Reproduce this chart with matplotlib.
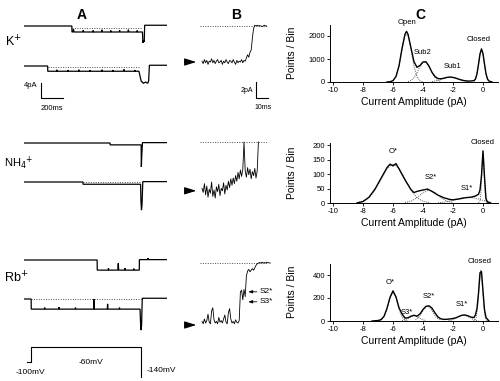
import numpy as np
import matplotlib
matplotlib.use("Agg")
import matplotlib.pyplot as plt

plt.rcParams['font.family'] = ['Liberation Sans', 'DejaVu Sans']
plt.rcParams['axes.unicode_minus'] = False

W, H = 500, 381

# ---------------- panel A: long sweeps (ms, pA) ----------------
k_a1_t = [-65, 370, 371, 380, 385, 390, 470, 474, 478, 560, 564, 568, 640, 644, 648, 720, 724, 728,
          800, 804, 808, 880, 884, 888, 960, 964, 968, 1012, 1016, 1022, 1028, 1032, 1235]
k_a1_i = [0, 0, -1.6, -1.6, -0.9, -1.6, -1.6, -1.1, -1.6, -1.6, -1.2, -1.6, -1.6, -1.0, -1.6, -1.6, -1.2, -1.6,
          -1.6, -1.1, -1.6, -1.6, -1.0, -1.6, -1.6, -1.2, -1.6, -1.6, -4.5, -3.8, -4.2, 0.2, 0.2]
k_a1_closed = [370, 1012, -0.5]

k_a2_t = [-65, 150, 151, 230, 234, 238, 330, 334, 338, 430, 434, 438, 530, 534, 538, 640, 644, 648,
          740, 744, 748, 840, 844, 848, 940, 944, 948, 980, 1000, 1020, 1040, 1060, 1068, 1075, 1235]
k_a2_i = [0, 0, -1.4, -1.4, -1.0, -1.4, -1.4, -1.1, -1.4, -1.4, -1.0, -1.4, -1.4, -1.1, -1.4, -1.4, -1.0, -1.4,
          -1.4, -1.1, -1.4, -1.4, -0.9, -1.4, -1.4, -1.1, -1.4, -1.4, -4.0, -4.6, -4.3, -4.6, -4.0, 0.2, 0.2]
k_a2_closed = [150, 990, -0.2]

nh4_a1_t = [-65, 717, 718, 1000, 1002, 1006, 1012, 1235]
nh4_a1_i = [0, 0, -0.5, -0.5, -6.4, -3.0, 0.1, 0.1]

nh4_a2_t = [-65, 471, 472, 995, 998, 1003, 1008, 1015, 1235]
nh4_a2_i = [0, 0, -0.6, -0.6, -5.0, -7.5, -6.0, 0.1, 0.1]
nh4_a2_closed = [471, 995, 0.0]

rb_a1_t = [-65, 600, 601, 700, 703, 706, 788, 792, 796, 850, 853, 856, 930, 933, 936, 983, 984,
           1060, 1063, 1066, 1235]
rb_a1_i = [0, 0, -2.7, -2.7, -2.2, -2.7, -2.7, -0.9, -2.7, -2.7, -2.2, -2.7, -2.7, -2.3, -2.7, -2.7, 0.1,
           0.1, 0.5, 0.1, 0.1]

rb_a2_t = [-65, 0, 1, 120, 123, 126, 250, 253, 256, 400, 403, 406, 570, 572, 574, 692, 695, 698,
           800, 803, 806, 990, 994, 998, 1004, 1010, 1235]
rb_a2_i = [0, 0, -2.7, -2.7, -2.3, -2.7, -2.7, -2.2, -2.7, -2.7, -2.3, -2.7, -2.7, 0.0, -2.7, -2.7, -1.3, -2.7,
           -2.7, -2.3, -2.7, -2.7, -6.0, -8.3, -7.0, 0.2, 0.2]
rb_a2_closed = [0, 995, 0.0]

prot_t = [-40, 0, 0, 1000, 1000]
prot_v = [-100, -100, -60, -60, -140]

# ---------------- panel B: tail currents, 1 ms samples (pA) ----------------
k_b_i = [-4.4, -4.7, -4.2, -4.6, -4.3, -4.8, -4.4, -4.5, -4.1, -4.6, -4.3, -4.7, -4.4, -4.2, -4.6, -4.5,
         -4.3, -4.8, -4.4, -4.6, -4.2, -4.5, -4.7, -4.3, -4.4, -4.6, -4.2, -4.5, -4.8, -4.3, -4.6, -4.4,
         -4.5, -4.2, -4.6, -4.3, -4.4, -4.0, -3.6, -3.9, -3.3, -3.0, -1.5, -0.3, 0.1, 0.0, 0.1, 0.0,
         0.05, 0.0, -0.05, 0.0, 0.1, 0.0, 0.0]
nh4_b_i = [-5.8, -6.3, -5.2, -6.6, -5.5, -6.9, -5.9, -6.4, -5.0, -6.8, -6.0, -7.0, -5.6, -6.2, -5.3, -6.7,
           -5.8, -6.1, -5.1, -6.5, -5.4, -6.0, -4.9, -5.7, -4.6, -5.4, -4.5, -5.2, -4.2, -4.9, -3.8, -4.6,
           -3.5, -4.3, -3.4, 0.0, -3.6, -4.4, -3.2, -4.1, -3.4, -4.6, -3.7, -4.2, -3.3, -4.5, -3.6, 0.0]
rb_b_i = [-7.3, -7.6, -7.0, -7.5, -7.2, -6.4, -7.4, -7.6, -6.0, -5.6, -7.1, -7.5, -7.3, -7.6, -6.8, -7.4,
          -7.2, -7.5, -7.0, -6.5, -7.4, -7.6, -6.2, -5.7, -7.0, -7.5, -7.3, -7.6, -7.1, -7.4, -7.5, -7.2,
          -3.6, -3.4, -4.6, -3.3, -4.2, -1.6, -1.0, -0.8, -1.1, -0.9, -0.7, -0.9, -0.6, -0.3, -0.1,
          0.0, 0.05, 0.0, 0.1, 0.0, 0.05, 0.0, 0.1, 0.05, 0.0, 0.0]
b_open = {'K': -4.5, 'NH4': -6.1, 'Rb': -7.75}

# ---------------- panel C: amplitude histograms ----------------
k_x = [-6.4, -6.2, -6.0, -5.8, -5.6, -5.4, -5.2, -5.1, -5.0, -4.8, -4.6, -4.4, -4.2, -4.0, -3.8, -3.6,
       -3.4, -3.2, -3.0, -2.8, -2.6, -2.4, -2.2, -2.0, -1.8, -1.6, -1.4, -1.2, -1.0, -0.8, -0.6, -0.5,
       -0.4, -0.3, -0.2, -0.1, 0.0, 0.1, 0.2, 0.3, 0.4, 0.6]
k_n = [0, 10, 60, 240, 700, 1450, 2080, 2200, 2080, 1480, 880, 640, 720, 870, 880, 690,
       420, 240, 150, 140, 165, 200, 215, 200, 165, 120, 80, 55, 40, 45, 60, 130,
       360, 770, 1220, 1440, 1230, 780, 360, 130, 40, 0]
k_fit = [
    ([-6.0, -5.8, -5.6, -5.4, -5.2, -5.0, -4.8, -4.6, -4.4, -4.2, -4.0],
     [52, 228, 680, 1420, 2050, 2050, 1420, 680, 228, 52, 8]),
    ([-5.0, -4.8, -4.6, -4.4, -4.2, -4.0, -3.8, -3.6, -3.4, -3.2, -3.0, -2.8],
     [20, 70, 190, 402, 664, 853, 853, 664, 402, 190, 70, 20]),
    ([-3.4, -3.2, -3.0, -2.8, -2.6, -2.4, -2.2, -2.0, -1.8, -1.6, -1.4, -1.2, -1.0],
     [19, 40, 73, 116, 161, 197, 210, 197, 161, 116, 73, 40, 19]),
    ([-0.6, -0.5, -0.4, -0.3, -0.2, -0.1, 0.0, 0.1, 0.2, 0.3, 0.4],
     [30, 120, 354, 766, 1217, 1420, 1217, 766, 354, 120, 30]),
]
k_labels = [('Open', -5.1, 2580), ('Sub2', -4.0, 1275), ('Sub1', -2.0, 670), ('Closed', -0.3, 1855)]

nh4_x = [-8.4, -8.0, -7.6, -7.2, -6.8, -6.4, -6.2, -6.0, -5.8, -5.6, -5.2, -4.8, -4.6, -4.4, -4.0, -3.7,
         -3.4, -3.0, -2.6, -2.2, -2.0, -1.6, -1.2, -0.8, -0.5, -0.3, -0.2, -0.1, 0.0, 0.1, 0.2, 0.3, 0.5]
nh4_n = [0, 5, 20, 48, 85, 122, 134, 128, 136, 118, 80, 46, 36, 40, 45, 48,
         40, 27, 18, 12, 11, 14, 18, 20, 24, 30, 45, 95, 180, 90, 15, 3, 0]
nh4_fit = [
    ([-8.4, -8.0, -7.6, -7.2, -6.8, -6.4, -6.0, -5.6, -5.2, -4.8, -4.4, -4.0, -3.6],
     [1.5, 6, 18, 44, 82, 119, 135, 119, 82, 44, 18, 6, 1.5]),
    ([-5.2, -4.8, -4.4, -4.0, -3.6, -3.2, -2.8, -2.4, -2.0],
     [1.3, 6, 18.5, 36, 45, 36, 18.5, 6, 1.3]),
    ([-3.0, -2.6, -2.2, -1.8, -1.4, -1.0, -0.6, -0.2, 0.2, 0.6],
     [0.9, 2.7, 6.5, 12, 17.6, 20, 17.6, 12, 6.5, 2.7]),
    ([-0.3, -0.2, -0.15, -0.1, -0.05, 0.0, 0.05, 0.1, 0.15, 0.2, 0.3],
     [0.2, 7.5, 29, 78, 140, 170, 140, 78, 29, 7.5, 0.2]),
]
nh4_labels = [('O*', -6.0, 177), ('S2*', -3.5, 87), ('S1*', -1.1, 50), ('Closed', 0.0, 208)]

rb_x = [-7.4, -7.0, -6.8, -6.6, -6.4, -6.2, -6.0, -5.8, -5.6, -5.4, -5.2, -5.0, -4.8, -4.6, -4.4, -4.2,
        -4.0, -3.8, -3.6, -3.4, -3.2, -3.0, -2.8, -2.6, -2.4, -2.2, -2.0, -1.8, -1.6, -1.4, -1.2, -1.0,
        -0.8, -0.6, -0.5, -0.4, -0.3, -0.2, -0.1, 0.0, 0.1, 0.2, 0.4]
rb_n = [0, 4, 12, 40, 110, 205, 262, 210, 115, 62, 25, 28, 42, 50, 42, 62,
        100, 128, 132, 112, 70, 35, 18, 14, 15, 18, 22, 28, 40, 50, 52, 45,
        34, 30, 55, 110, 240, 420, 430, 260, 100, 30, 0]
rb_fit = [
    ([-7.0, -6.8, -6.6, -6.4, -6.2, -6.0, -5.8, -5.6, -5.4, -5.2, -5.0],
     [1, 7, 34, 105, 204, 255, 204, 105, 34, 7, 1]),
    ([-5.4, -5.2, -5.0, -4.8, -4.6, -4.4, -4.2, -4.0, -3.8],
     [3.3, 10, 23, 38, 45, 38, 23, 10, 3.3]),
    ([-4.5, -4.3, -4.1, -3.9, -3.7, -3.5, -3.3, -3.1, -2.9],
     [9.5, 30, 68, 110, 130, 110, 68, 30, 9.5]),
    ([-2.3, -2.1, -1.9, -1.7, -1.5, -1.3, -1.1, -0.9, -0.7, -0.5, -0.3],
     [2.3, 7, 17, 32, 46, 52, 46, 32, 17, 7, 2.3]),
    ([-0.65, -0.55, -0.45, -0.35, -0.25, -0.15, -0.05, 0.05, 0.15, 0.25, 0.35],
     [0.3, 4, 31, 135, 327, 440, 327, 135, 31, 4, 0.3]),
]
rb_labels = [('O*', -6.2, 333), ('S3*', -5.1, 70), ('S2*', -3.6, 215), ('S1*', -1.4, 140), ('Closed', -0.25, 516)]

x_ticks = [-10, -8, -6, -4, -2, 0]

fig = plt.figure(figsize=(W / 100, H / 100), dpi=100)


def px_axes(x0, x1, y_top, y_bot):
    ax = fig.add_axes([x0 / W, 1 - y_bot / H, (x1 - x0) / W, (y_bot - y_top) / H])
    ax.patch.set_visible(False)
    return ax


def trace_axes(x0, x1, xlim, y0, ppu, ylim):
    ax = px_axes(x0, x1, y0 - ylim[1] * ppu, y0 - ylim[0] * ppu)
    ax.set_xlim(xlim)
    ax.set_ylim(ylim)
    ax.axis('off')
    return ax


def ftext(x, y, s, **kw):
    fig.text(x / W, 1 - y / H, s, **kw)


# panel A
A_XL = (-65, 1235)
A_PPU = 3.75
a_rows = [
    (26, k_a1_t, k_a1_i, k_a1_closed, (-6, 1)),
    (66, k_a2_t, k_a2_i, k_a2_closed, (-12.5, 1)),
    (143, nh4_a1_t, nh4_a1_i, None, (-8, 1)),
    (182, nh4_a2_t, nh4_a2_i, nh4_a2_closed, (-9, 1)),
    (260, rb_a1_t, rb_a1_i, None, (-4, 1)),
    (299, rb_a2_t, rb_a2_i, rb_a2_closed, (-9, 1)),
]
a_axes = []
for y0, t, i, closed, yl in a_rows:
    ax = trace_axes(24, 167, A_XL, y0, A_PPU, yl)
    if closed is not None:
        ax.plot(closed[:2], [closed[2]] * 2, ls=(0, (1, 1.5)), color='0.3', lw=0.7)
    ax.plot(t, i, color='black', lw=0.9, solid_joinstyle='miter')
    a_axes.append(ax)

# scale bar A (4 pA, 200 ms)
ax = a_axes[1]
ax.plot([90, 90, 290], [-4.5, -8.5, -8.5], color='black', lw=0.8, clip_on=False)
ax.text(58, -5.2, '4pA', ha='right', va='center', fontsize=5.5)
ax.text(190, -10.4, '200ms', ha='center', va='top', fontsize=5.5)

# voltage protocol
ax = trace_axes(24, 167, A_XL, 347 - 60 * 0.37, 0.37, (-145, -55))
ax.plot(prot_t, prot_v, color='black', lw=0.8)
ftext(30, 373, '-100mV', ha='center', va='center', fontsize=6)
ftext(91, 363, '-60mV', ha='center', va='center', fontsize=6)
ftext(147, 370, '-140mV', ha='left', va='center', fontsize=6)

# panel B
B_XL = (-12, 58)
B_PPU = 8
b_rows = [(26, k_b_i, 'K', (-11, 1)), (142, nh4_b_i, 'NH4', (-8, 1)), (263, rb_b_i, 'Rb', (-8.5, 1))]
b_axes = []
for y0, vals, key, yl in b_rows:
    ax = trace_axes(187.6, 271.6, B_XL, y0, B_PPU, yl)
    ax.plot([-2, 54], [0, 0], ls=(0, (1, 1.5)), color='0.3', lw=0.7)
    ax.plot(np.arange(len(vals)), vals, color='black', lw=0.6)
    ax.annotate('', xy=(-2.5, b_open[key]), xytext=(-11, b_open[key]),
                arrowprops=dict(arrowstyle='-|>,head_length=0.7,head_width=0.22', color='black', lw=0.8))
    b_axes.append(ax)

ax = b_axes[0]
ax.plot([45, 45, 55], [-7.0, -9.0, -9.0], color='black', lw=0.8, clip_on=False)
ax.text(43, -8.0, '2pA', ha='right', va='center', fontsize=5)
ax.text(51, -9.7, '10ms', ha='center', va='top', fontsize=5)

ax = b_axes[2]
for lab, lvl in [('S2*', -3.6), ('S3*', -4.85)]:
    ax.annotate(lab, xy=(38.5, lvl), xytext=(48, lvl), fontsize=6, va='center', ha='left',
                annotation_clip=False,
                arrowprops=dict(arrowstyle='-|>,head_length=0.4,head_width=0.15', color='black', lw=0.6,
                                shrinkA=0, shrinkB=0))

# row labels and panel letters
ftext(5, 42, 'K$^{+}$', ha='left', va='center', fontsize=9)
ftext(4, 163, 'NH$_4$$^{+}$', ha='left', va='center', fontsize=8)
ftext(4, 278, 'Rb$^{+}$', ha='left', va='center', fontsize=9)
for s, x in [('A', 82), ('B', 236), ('C', 420)]:
    ftext(x, 15, s, ha='center', va='center', fontsize=10, fontweight='bold')

# panel C
c_rows = [
    (24.5, 82, (0, 2500), [0, 1000, 2000], k_x, k_n, k_fit, k_labels),
    (143, 203, (0, 207), [0, 50, 100, 150, 200], nh4_x, nh4_n, nh4_fit, nh4_labels),
    (263.5, 321, (0, 500), [0, 200, 400], rb_x, rb_n, rb_fit, rb_labels),
]
for y_top, y_bot, yl, yt, hx, hn, fits, labels in c_rows:
    ax = px_axes(330, 498, y_top, y_bot)
    for fx, fy in fits:
        ax.plot(fx, fy, ls=(0, (1, 1.2)), color='0.35', lw=0.7)
    ax.plot(hx, hn, color='black', lw=1.0)
    ax.set_xlim(-10.2, 1.0)
    ax.set_ylim(*yl)
    ax.set_xticks(x_ticks)
    ax.set_yticks(yt)
    ax.tick_params(labelsize=5.5, length=2, width=0.6, pad=1.5, direction='out')
    for sp in ['top', 'right']:
        ax.spines[sp].set_visible(False)
    for sp in ['left', 'bottom']:
        ax.spines[sp].set_linewidth(0.7)
    h_px = y_bot - y_top
    ax.set_xlabel('Current Amplitude (pA)', fontsize=7.5)
    ax.xaxis.set_label_coords(0.5, -15 / h_px)
    ax.set_ylabel('Points / Bin', fontsize=7.5)
    ax.yaxis.set_label_coords(-33 / 168, 0.5)
    for s, lx, ly in labels:
        ax.text(lx, ly, s, ha='center', va='center', fontsize=5.5, clip_on=False)

fig.savefig('out.png', dpi=100)
